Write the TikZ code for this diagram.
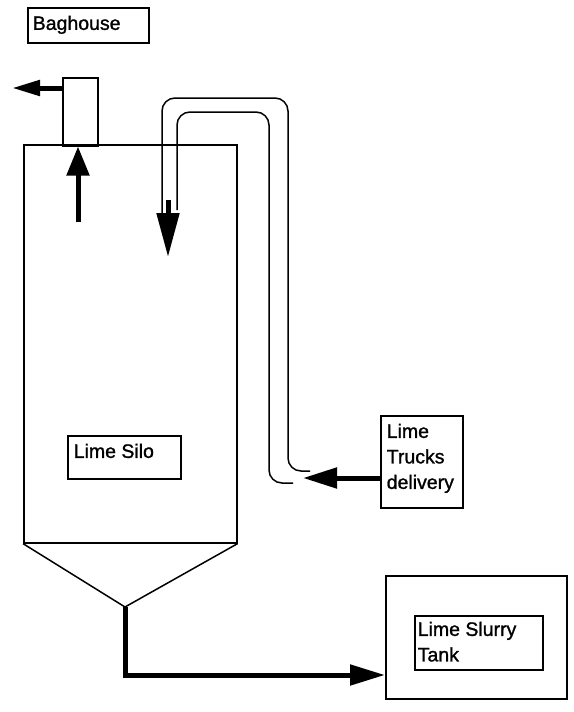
\documentclass[tikz,border=0pt]{standalone}
\usepackage{fontspec}
\setmainfont{Liberation Sans}[FakeBold=1.2]
\usetikzlibrary{arrows.meta}
\begin{document}
\begin{tikzpicture}[x=1pt,y=-1pt,
  line width=1.5pt,
  box/.style={draw,line width=1.5pt,inner sep=0pt,anchor=north west},
  lbl/.style={inner sep=0pt,anchor=north west,align=left,font=\fontsize{19.5}{25.5}\selectfont},
  flow/.style={line width=5pt},
  pipe/.style={line width=1.5pt,rounded corners=13pt}]
\useasboundingbox (0,0) rectangle (573,712);
% labels and boxes
\node[box,minimum width=121pt,minimum height=35pt] (bagbox) at (27,7) {};
\node[lbl] (bagtxt) at (32,15) {Baghouse};
\node[box,minimum width=35pt,minimum height=68pt] (bh) at (62,77) {};
% silo
\node[box,line width=1.6pt,minimum width=213pt,minimum height=398pt] (silo) at (23,144) {};
\coordinate (tip) at (125,607);
\draw (silo.south west) -- (tip) -- (silo.south east);
\node[box,minimum width=113pt,minimum height=43pt] (silobox) at (67,435) {};
\node[lbl] (silotxt) at (73,443) {Lime Silo};
% trucks
\node[box,minimum width=82pt,minimum height=92pt] (trucks) at (380,415) {};
\node[lbl] (truckstxt) at (386,423) {Lime\\Trucks\\delivery};
% tank
\node[box,minimum width=181pt,minimum height=123pt] (tank) at (385,575) {};
\node[box,minimum width=128pt,minimum height=54pt] (slurrybox) at (414,615) {};
\node[lbl] (slurrytxt) at (417,621) {Lime Slurry\\Tank};
% pipe loop
\draw[pipe] (162,213) -- (162,98) -- (288,98) -- (288,471) -- (310,471);
\draw[pipe] (177,210) -- (177,112) -- (269,112) -- (269,483) -- (293,483);
% arrows
\coordinate (bagout) at (12,88);
\draw[flow,-{Triangle[length=28pt,width=15pt]}] (bagout -| bh.west) -- (bagout);
\coordinate (upS) at (78,222);
\draw[flow,-{Triangle[length=29pt,width=22pt]}] (upS) -- (upS |- bh.south);
\coordinate (dS) at (168,200);
\coordinate (dE) at (168,257);
\draw[flow,-{Triangle[length=44pt,width=22pt]}] (dS) -- (dE);
\coordinate (tin) at (303,478);
\draw[flow,-{Triangle[length=34pt,width=20pt]}] (trucks.west |- tin) -- (tin);
\coordinate (tankin) at (385,675);
\draw[flow,-{Triangle[length=35pt,width=20pt]}] (tip) |- (tankin);
\end{tikzpicture}
\end{document}
